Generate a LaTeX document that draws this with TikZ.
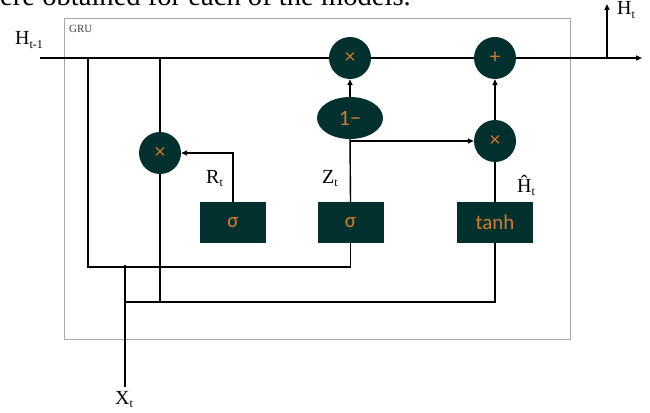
\documentclass[tikz,border=0pt]{standalone}
\usepackage{fontspec}
\setmainfont{Liberation Serif}
\newfontfamily\symfont{Carlito}
\usetikzlibrary{arrows.meta,shapes.geometric}
\definecolor{gdark}{RGB}{1,48,47}
\definecolor{gorange}{RGB}{205,125,50}
\definecolor{gbox}{RGB}{170,170,170}
\newcommand{\lbsub}[1]{\raisebox{-0.4ex}{\fontsize{12}{12}\selectfont #1}}
\begin{document}
\begin{tikzpicture}[x=1pt,y=-1pt,
  op/.style={circle,fill=gdark,minimum size=42pt,inner sep=0pt,text=gorange,font=\symfont\fontsize{21}{21}\selectfont},
  gate/.style={rectangle,fill=gdark,inner sep=0pt,minimum height=41pt,text=gorange,font=\symfont\fontsize{21}{21}\selectfont},
  oval/.style={ellipse,fill=gdark,inner sep=0pt,minimum width=66pt,minimum height=42pt,text=gorange,font=\symfont\fontsize{22}{22}\selectfont},
  wire/.style={line width=1.4pt,black},
  arr/.style={wire,-{Triangle[length=6pt,width=5pt]}},
  lbl/.style={font=\fontsize{20}{20}\selectfont,anchor=base west,inner sep=0pt}]
\useasboundingbox (0,0) rectangle (650,412);
\begin{scope}
  \clip (0,0) rectangle (650,412);
  \node[anchor=base west,inner sep=0pt,font=\fontsize{28.6}{28.6}\selectfont] (toptext) at (0,6) {ere obtained for each of the models.};
\end{scope}
% frame
\node[draw=gbox,line width=0.9pt,minimum width=506pt,minimum height=321pt,inner sep=0pt,anchor=north west] (frame) at (64,18) {};
\node[anchor=west,inner sep=0pt,font=\fontsize{11}{11}\selectfont,text=black!75] (gru) at (69,29) {GRU};
% operation nodes
\node[op] (mA) at (350,58) {×};
\node[op] (pl) at (495,58) {+};
\node[op] (mB) at (495,141) {×};
\node[op] (mR) at (160,153) {×};
\node[oval] (om) at (350,118) {1−};
\node[gate,minimum width=66pt] (sR) at (233,222.5) {σ};
\node[gate,minimum width=66pt] (sZ) at (350.5,222.5) {σ};
\node[gate,minimum width=76pt] (th) at (495,222.5) {tanh};
% coordinates
\coordinate (hin) at (40,58);
\coordinate (hout) at (642,58);
\coordinate (jA) at (88,58);
\coordinate (jB) at (160,58);
\coordinate (jH) at (607,58);
\coordinate (htop) at (607,4);
\coordinate (xb) at (125,387);
\coordinate (xt) at (125,265);
\coordinate (cA) at (88,267);
\coordinate (cB) at (125,302);
% wires
\draw[wire] (hin) -- (mA.west);
\draw[wire] (mA.east) -- (pl.west);
\draw[arr] (pl.east) -- (hout);
\draw[arr] (jH) -- (htop);
\draw[wire] (jA) -- (cA) -| (sZ.south);
\draw[wire] (jB) -- (mR.north);
\draw[wire] (mR.south) -- (mR.south |- cB);
\draw[wire] (cB) -| (th.south);
\draw[wire] (xt) -- (xb);
\draw[arr] (sR.north) |- (mR.east);
\draw[wire] (sZ.north) -- (om.south);
\draw[arr] (sZ.north) |- (mB.west);
\draw[arr] (om.north) -- (mA.south);
\draw[wire] (th.north) -- (mB.south);
\draw[arr] (mB.north) -- (pl.south);
% labels
\node[lbl] (lhp) at (15,45) {H\lbsub{t-1}};
\node[lbl] (lht) at (617,15) {H\lbsub{t}};
\node[lbl] (lr) at (206,183) {R\lbsub{t}};
\node[lbl] (lz) at (322,183) {Z\lbsub{t}};
\node[lbl] (lhh) at (517,192) {Ĥ\lbsub{t}};
\node[lbl] (lx) at (115,404) {X\lbsub{t}};
\end{tikzpicture}
\end{document}
